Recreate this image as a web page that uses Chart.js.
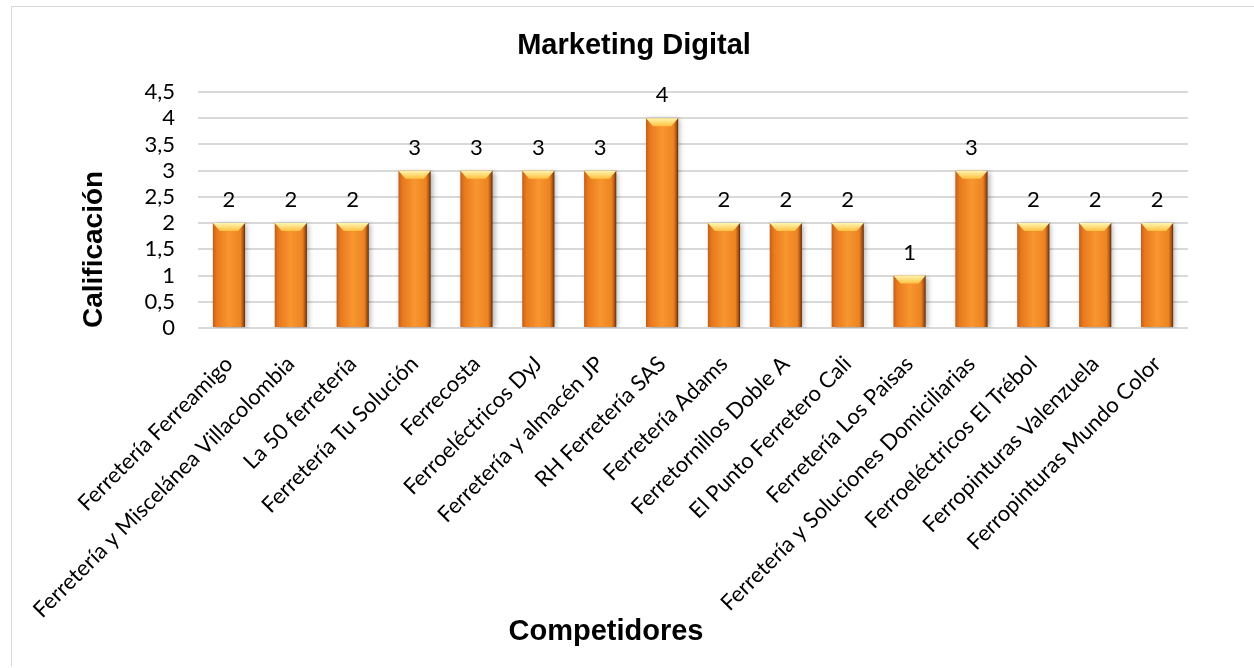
<!DOCTYPE html>
<html>
<head>
<meta charset="utf-8">
<script src="https://cdn.jsdelivr.net/npm/chart.js"></script>
<style>
  body { margin: 0; background: #fff; }
  #frame { position: absolute; left: 11px; top: 6px; width: 1243px; height: 659px;
           border-left: 1px solid #d9d9d9; border-top: 1px solid #d9d9d9; }
  #myChart { position: absolute; left: 0; top: 0; }
</style>
</head>
<body>
<div id="frame"></div>
<canvas id="myChart" width="1254" height="668"></canvas>
<script>
var competidores = [
    "Ferretería Ferreamigo",
    "Ferretería y Miscelánea Villacolombia",
    "La 50 ferretería",
    "Ferretería Tu Solución",
    "Ferrecosta",
    "Ferroeléctricos DyJ",
    "Ferretería y almacén JP",
    "RH Ferretería SAS",
    "Ferretería Adams",
    "Ferretornillos Doble A",
    "El Punto Ferretero Cali",
    "Ferretería Los Paisas",
    "Ferretería y Soluciones Domiciliarias",
    "Ferroeléctricos El Trébol",
    "Ferropinturas Valenzuela",
    "Ferropinturas Mundo Color"
];
var calificacion = [2, 2, 2, 3, 3, 3, 3, 4, 2, 2, 2, 1, 3, 2, 2, 2];
var yMax = 4.5;
var yStep = 0.5;

var barPct = 0.52;
var labelFont = { family: "Lato", size: 22 };

function barFill(c) {
    var chart = c.chart;
    var xs = chart.scales && chart.scales.x;
    if (!chart.chartArea || !xs) return "#f08a24";
    var cx = xs.getPixelForValue(c.dataIndex);
    var half = xs.width / competidores.length * barPct / 2;
    var g = chart.ctx.createLinearGradient(cx - half, 0, cx + half, 0);
    g.addColorStop(0, "#c0601a");
    g.addColorStop(0.12, "#e8781e");
    g.addColorStop(0.5, "#f8962f");
    g.addColorStop(0.86, "#ec8322");
    g.addColorStop(0.95, "#a8500f");
    g.addColorStop(1, "#5a2806");
    return g;
}

var barDecor = {
    id: "barDecor",
    beforeDatasetsDraw: function (chart) {
        var ctx = chart.ctx;
        ctx.save();
        ctx.shadowColor = "rgba(0,0,0,0.30)";
        ctx.shadowBlur = 5;
        ctx.shadowOffsetX = 2;
        ctx.shadowOffsetY = 1;
    },
    afterDatasetsDraw: function (chart) {
        var ctx = chart.ctx;
        ctx.restore();
        var meta = chart.getDatasetMeta(0);
        meta.data.forEach(function (el, i) {
            var p = el.getProps(["x", "y", "width", "base"], true);
            var l = p.x - p.width / 2, r = p.x + p.width / 2, t = p.y;
            // top bevel
            var g = ctx.createLinearGradient(0, t, 0, t + 8);
            g.addColorStop(0, "#fff6b0");
            g.addColorStop(1, "#ffc040");
            ctx.beginPath();
            ctx.moveTo(l, t);
            ctx.lineTo(r, t);
            ctx.lineTo(r - 7, t + 8);
            ctx.lineTo(l + 7, t + 8);
            ctx.closePath();
            ctx.fillStyle = g;
            ctx.fill();
            // value label
            ctx.fillStyle = "#000";
            ctx.font = labelFont.size + "px " + labelFont.family;
            ctx.textAlign = "center";
            ctx.textBaseline = "middle";
            ctx.fillText(String(calificacion[i]), p.x, t - 23);
        });
    },
    afterDraw: function (chart) {
        var ctx = chart.ctx;
        ctx.save();
        ctx.fillStyle = "#000";
        ctx.font = "bold 29px 'Liberation Sans'";
        ctx.textAlign = "center";
        ctx.textBaseline = "middle";
        ctx.fillText("Competidores", 606, 632);
        ctx.restore();
    }
};

new Chart("myChart", {
    type: "bar",
    data: {
        labels: competidores,
        datasets: [{
            data: calificacion,
            backgroundColor: barFill,
            borderWidth: 0,
            barPercentage: barPct,
            categoryPercentage: 1
        }]
    },
    options: {
        responsive: false,
        animation: false,
        devicePixelRatio: 1,
        layout: { padding: { left: 14, right: 0, top: 0, bottom: 0 } },
        plugins: {
            legend: { display: false },
            tooltip: { enabled: false },
            title: {
                display: true,
                text: "Marketing Digital",
                color: "#000",
                font: { family: "'Liberation Sans'", size: 29, weight: "bold" },
                padding: { top: 29, bottom: 28.2 }
            }
        },
        scales: {
            x: {
                grid: { display: false },
                border: { display: false },
                ticks: {
                    autoSkip: false,
                    minRotation: 45,
                    maxRotation: 45,
                    padding: 15,
                    color: "#000",
                    font: labelFont
                },
                afterFit: function (s) { s.height = 340; }
            },
            y: {
                min: 0,
                max: yMax,
                grid: { color: "#d9d9d9", lineWidth: 2, drawTicks: false },
                border: { display: false },
                ticks: {
                    stepSize: yStep,
                    padding: 23,
                    color: "#000",
                    font: { family: labelFont.family, size: labelFont.size, lineHeight: 1 },
                    callback: function (v) { return String(v).replace(".", ","); }
                },
                title: {
                    display: true,
                    text: "Calificación",
                    align: "start",
                    color: "#000",
                    font: { family: "'Liberation Sans'", size: 28, weight: "bold" },
                    padding: { top: 63, bottom: 0 }
                },
                afterFit: function (s) { s.width = 184; }
            },
            // empty right-hand box so the plot ends where the reference's does
            yRight: {
                position: "right",
                grid: { display: false },
                border: { display: false },
                ticks: { display: false },
                afterFit: function (s) { s.width = 66; }
            }
        }
    },
    plugins: [barDecor]
});
</script>
</body>
</html>
